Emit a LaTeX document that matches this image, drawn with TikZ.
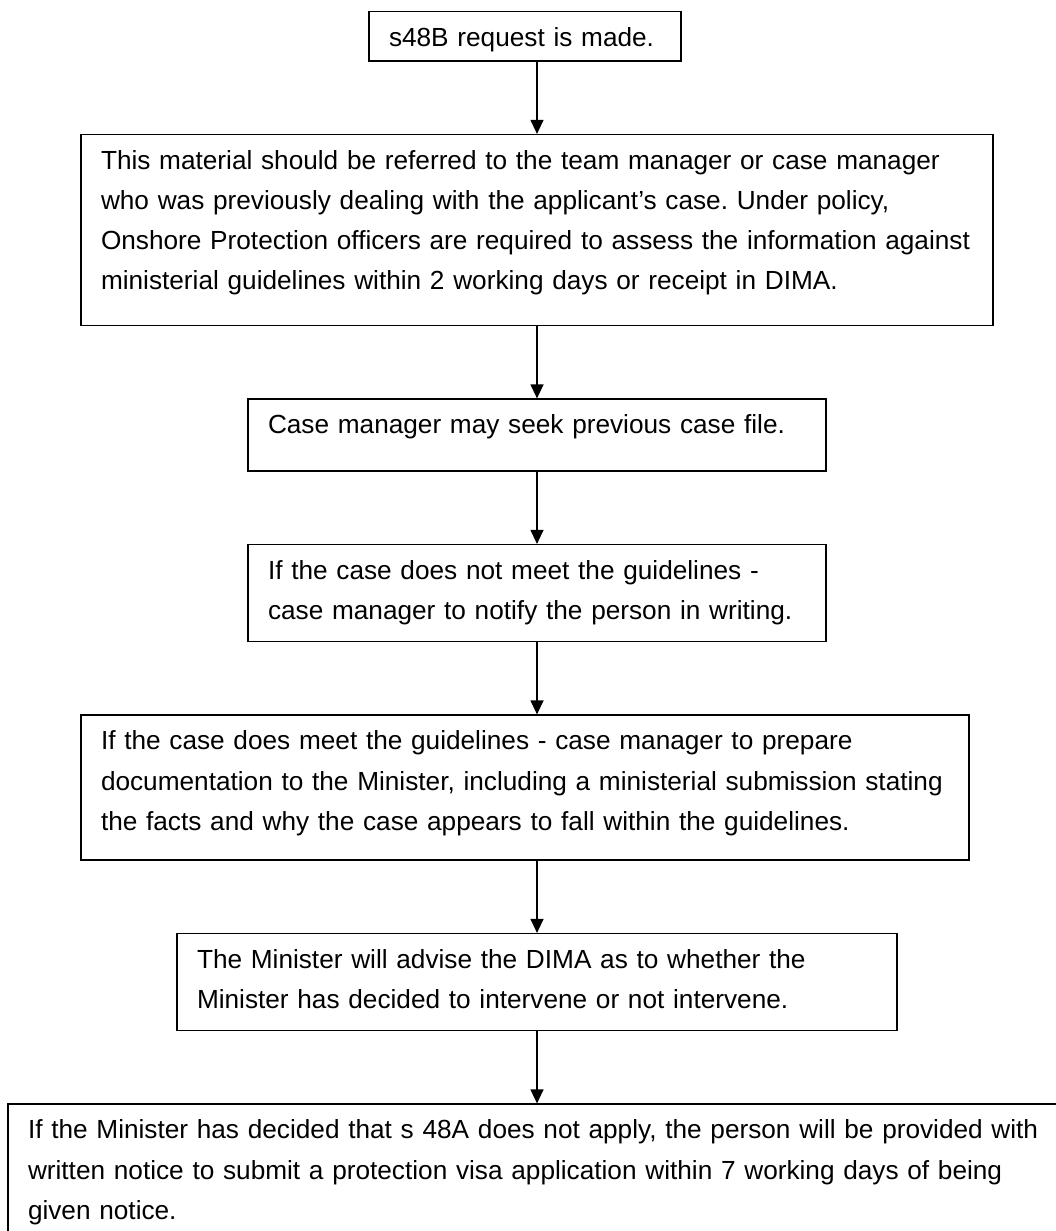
\documentclass[tikz,border=0pt]{standalone}
\usepackage{fontspec}
\setmainfont{Liberation Sans}
\usepackage{tikz}
\usetikzlibrary{arrows.meta,positioning}

\begin{document}
\begin{tikzpicture}[>={Triangle[length=14pt,width=13pt]},line width=1.2pt,node distance=72pt]
\tikzstyle{stepbox}=[draw,line width=1.5pt,align=left,inner xsep=20pt,inner ysep=14.7pt,text height=20pt,font=\fontsize{26.2pt}{40.2pt}\selectfont\frenchspacing]
\useasboundingbox (0,0) rectangle (1055pt,-1231pt);
\node[stepbox,anchor=north,text width=272pt,text depth=0pt] (request) at (525pt,-11pt) {s48B request is made.};
\node[stepbox,below=of request,xshift=12pt,text width=872pt,text depth=141.6pt] (refer) {This material should be referred to the team manager or case manager\\who was previously dealing with the applicant’s case. Under policy,\\Onshore Protection officers are required to assess the information against\\ministerial guidelines within 2 working days or receipt in DIMA.};
\node[stepbox,below=of refer,text width=538pt,text depth=22.6pt] (seek) {Case manager may seek previous case file.};
\node[stepbox,below=of seek,text width=538pt,text depth=47.6pt] (notmeet) {If the case does not meet the guidelines -\\case manager to notify the person in writing.};
\node[stepbox,below=of notmeet,xshift=-12pt,text width=848pt,text depth=95.6pt] (meet) {If the case does meet the guidelines - case manager to prepare\\documentation to the Minister, including a ministerial submission stating\\the facts and why the case appears to fall within the guidelines.};
\node[stepbox,below=of meet,xshift=12pt,text width=680pt,text depth=47.6pt] (advise) {The Minister will advise the DIMA as to whether the\\Minister has decided to intervene or not intervene.};
\node[stepbox,below=of advise,xshift=2pt,text width=1022pt,text depth=150pt] (notice) {If the Minister has decided that s 48A does not apply, the person will be provided with\\written notice to submit a protection visa application within 7 working days of being\\given notice.};
\draw[->] (request.south -| refer) -- (refer);
\draw[->] (refer) -- (seek);
\draw[->] (seek) -- (notmeet);
\draw[->] (notmeet) -- (notmeet |- meet.north);
\draw[->] (meet.south -| advise) -- (advise);
\draw[->] (advise) -- (advise |- notice.north);
\end{tikzpicture}
\end{document}
